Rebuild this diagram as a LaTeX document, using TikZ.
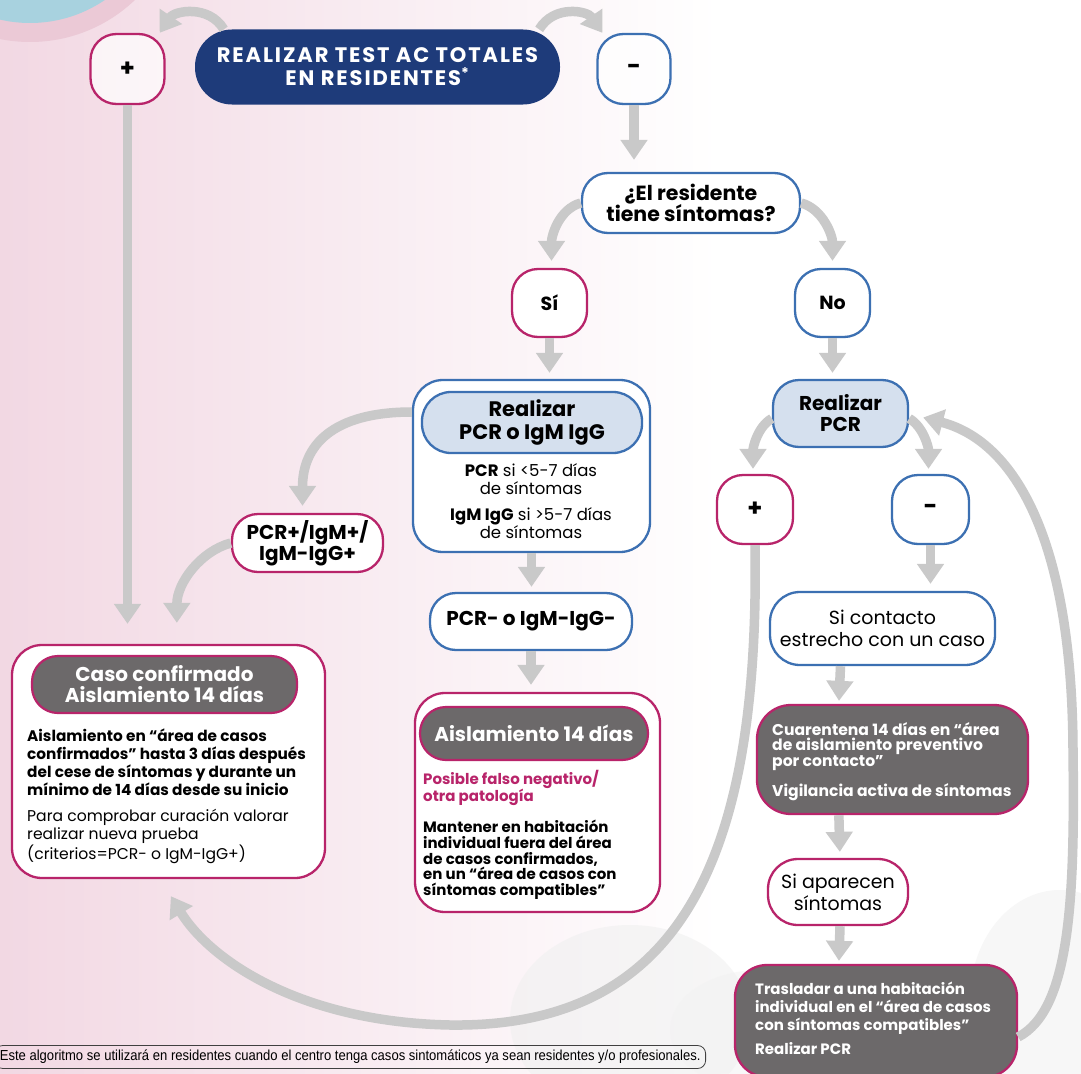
\documentclass[tikz,border=0pt]{standalone}
\usepackage{fontspec}
\setmainfont{Poppins}
\newfontfamily\condfont[FakeStretch=0.9]{Liberation Sans}
\usetikzlibrary{arrows.meta,calc}
\definecolor{navy}{HTML}{1E3B7A}
\definecolor{mag}{HTML}{B8246A}
\definecolor{bluebd}{HTML}{3C70B2}
\definecolor{arrg}{HTML}{C9C9C9}
\definecolor{dgray}{HTML}{6C696A}
\definecolor{lblue}{HTML}{D5E0EE}
\definecolor{bgpink}{HTML}{F2D8E3}
\definecolor{bluec}{HTML}{A8D2DF}
\definecolor{halo}{HTML}{EBC9D6}
\newcommand\fsz[2]{\fontsize{#1}{#2}\selectfont}
\tikzset{
  box/.style={line width=2.3pt, rounded corners=26pt, inner sep=0pt, align=center, fill=white},
  magbox/.style={box, draw=mag},
  bluebox/.style={box, draw=bluebd},
  grayhead/.style={line width=2.2pt, draw=mag, fill=dgray, text=white, rounded corners=26pt, inner sep=0pt, align=center, font=\bfseries\fsz{20}{21}},
  arr/.style={draw=arrg, line width=9.5pt, -{Triangle[width=26pt,length=20pt]}},
  btxt/.style={inner sep=0pt, anchor=north west, align=left},
}
\begin{document}
\begin{tikzpicture}[x=1pt,y=-1pt]
\useasboundingbox (0,0) rectangle (1081,1073);
\begin{scope}
\clip (0,0) rectangle (1081,1073);
\fill[white] (0,0) rectangle (1081,1073);
\shade[left color=bgpink, right color=white] (0,0) rectangle (720,1073);
\fill[halo] (30,-110) circle (152);
\fill[bluec] (30,-110) circle (133);
\fill[black!6, opacity=0.6] (630,1020) ellipse (120 and 95);
\fill[black!5, opacity=0.6] (1060,1000) ellipse (90 and 110);
\fill[black!5, opacity=0.5] (760,1030) ellipse (90 and 60);
\end{scope}

% nodes
\node[box, fill=navy, rounded corners=37pt, minimum width=365pt, minimum height=75pt,
  text=white, font=\bfseries\fsz{21}{23}\addfontfeature{LetterSpace=9}] (title) at (377.5,67) {REALIZAR TEST AC TOTALES\\EN RESIDENTES\textsuperscript{*}};
\node[magbox, fill=white, fill opacity=0.7, text opacity=1, minimum width=74pt, minimum height=70pt, font=\bfseries\fsz{24}{24}] (plusA) at (127.5,69) {+};
\node[bluebox, fill=white, fill opacity=0.7, text opacity=1, minimum width=73pt, minimum height=70pt, font=\bfseries\fsz{24}{24}] (minusA) at (634,69) {-};
\node[bluebox, minimum width=218pt, minimum height=60pt, font=\bfseries\fsz{20.5}{21}] (q) at (691,203) {¿El residente\\tiene síntomas?};
\node[magbox, minimum width=75pt, minimum height=68pt, font=\bfseries\fsz{19}{20}] (si) at (549.5,303) {Sí};
\node[bluebox, minimum width=75pt, minimum height=68pt, font=\bfseries\fsz{19}{20}] (no) at (832.5,303) {No};

% central column
\node[bluebox, rounded corners=30pt, minimum width=237pt, minimum height=172pt] (pcrA) at (531.5,466) {};
\node[box, draw=bluebd, fill=lblue, rounded corners=29pt, minimum width=220pt, minimum height=61pt, font=\bfseries\fsz{21}{23}] (pcrAh) at (532,422.5) {Realizar\\PCR o IgM IgG};
\node[inner sep=0pt, align=center, font=\fsz{16.5}{18}] (pcrAb) at (531,501) {\textbf{PCR} si <5-7 días\\de síntomas\\[8pt]\textbf{IgM IgG} si >5-7 días\\de síntomas};
\node[bluebox, minimum width=202pt, minimum height=57pt, font=\bfseries\fsz{20}{20}] (pcrneg) at (531,621.5) {PCR- o IgM-IgG-};
\node[magbox, rounded corners=30pt, minimum width=245pt, minimum height=219pt] (aisl) at (537.5,802.5) {};
\node[grayhead, minimum width=228pt, minimum height=53pt] (aislh) at (534,733.5) {Aislamiento 14 días};
\node[btxt, text=mag, font=\bfseries\fsz{15}{17}] (aislb1) at (423,770) {Posible falso negativo/\\otra patología};
\node[btxt, font=\bfseries\fsz{15}{15.75}] (aislb2) at (423,820) {Mantener en habitación\\individual fuera del área\\de casos confirmados,\\en un “área de casos con\\síntomas compatibles”};

% left column
\node[magbox, minimum width=151pt, minimum height=58pt, font=\bfseries\fsz{20}{21}] (pcrpos) at (307.5,543) {PCR+/IgM+/\\IgM-IgG+};
\node[magbox, rounded corners=30pt, minimum width=313pt, minimum height=233pt] (caso) at (168.5,761.5) {};
\node[grayhead, minimum width=265pt, minimum height=57pt] (casoh) at (164.5,684.5) {Caso confirmado\\Aislamiento 14 días};
\node[btxt, font=\bfseries\fsz{15.3}{18}] (casob1) at (27,729) {Aislamiento en “área de casos\\confirmados” hasta 3 días después\\del cese de síntomas y durante un\\mínimo de 14 días desde su inicio};
\node[btxt, font=\fsz{15.6}{18}] (casob2) at (27,809) {Para comprobar curación valorar\\realizar nueva prueba\\(criterios=PCR- o IgM-IgG+)};

% right column
\node[box, draw=bluebd, fill=lblue, minimum width=135pt, minimum height=67pt, font=\bfseries\fsz{20}{21}] (pcrB) at (840.5,413.5) {Realizar\\PCR};
\node[magbox, minimum width=76pt, minimum height=69pt, font=\bfseries\fsz{24}{24}] (plusB) at (755,509.5) {+};
\node[bluebox, minimum width=77pt, minimum height=69pt, font=\bfseries\fsz{24}{24}] (minusB) at (930.5,509.5) {-};
\node[bluebox, rounded corners=30pt, minimum width=225pt, minimum height=73pt, font=\fsz{19}{22}] (contacto) at (882.5,628.5) {Si contacto\\estrecho con un caso};
\node[box, draw=mag, fill=dgray, rounded corners=34pt, minimum width=271pt, minimum height=109pt] (cuar) at (892.5,759.5) {};
\node[btxt, text=white, font=\bfseries\fsz{15.6}{15}] (cuarb) at (772,722) {Cuarentena 14 días en “área\\de aislamiento preventivo\\por contacto”\\[12pt]Vigilancia activa de síntomas};
\node[magbox, rounded corners=30pt, minimum width=140pt, minimum height=66pt, font=\fsz{19}{22}] (apar) at (838,892) {Si aparecen\\síntomas};
\node[box, draw=mag, fill=dgray, rounded corners=32pt, minimum width=282pt, minimum height=112pt] (tras) at (876,1021) {};
\node[btxt, text=white, font=\bfseries\fsz{15}{18}] (trasb) at (755,982) {Trasladar a una habitación\\individual en el “área de casos\\con síntomas compatibles”\\[6pt]Realizar PCR};

% footnote
\node[draw=black!75, line width=0.8pt, rounded corners=8pt, anchor=east, inner xsep=5pt, minimum height=23pt,
  font=\condfont\fsz{14.5}{15}] (fn) at (706,1057) {Este algoritmo se utilizará en residentes cuando el centro tenga casos sintomáticos ya sean residentes y/o profesionales.};

% connectors
\draw[arr] ($(title.north west)+(30,1)$) .. controls +(-15,-25) and +(15,-22) .. ($(plusA.north east)+(-6,0)$);
\draw[arr] ($(title.north east)+(-22,1)$) .. controls +(15,-25) and +(-15,-22) .. ($(minusA.north west)+(6,0)$);
\draw[arr, shorten >=20pt] (plusA.south) -- (plusA.south |- caso.north);
\draw[arr, shorten >=12pt] (minusA.south) -- (minusA.south |- q.north);
\draw[arr] (q.west) .. controls +(-22,6) and +(0,-25) .. ($(si.north)+(2,-7)$);
\draw[arr] (q.east) .. controls +(22,6) and +(0,-25) .. ($(no.north)+(0,-7)$);
\draw[arr, shorten >=6pt] (si.south) -- (si.south |- pcrA.north);
\draw[arr, shorten >=6pt] (no.south) -- (no.south |- pcrB.north);
\draw[arr] ($(pcrA.west)+(0,-54)$) .. controls +(-80,0) and +(0,-60) .. ($(pcrpos.north)+(-5,-7)$);
\draw[arr] (pcrpos.west) .. controls +(-30,8) and +(0,-40) .. ($(caso.north west)+(166,-21)$);
\draw[arr, shorten >=5pt] (pcrA.south) -- (pcrA.south |- pcrneg.north);
\draw[arr, shorten >=7pt] (pcrneg.south) -- (pcrneg.south |- aisl.north);
\draw[arr] ($(pcrB.west)+(0,5)$) .. controls +(-14,8) and +(0,-22) .. ($(plusB.north)+(-2,-5)$);
\draw[arr] ($(pcrB.east)+(0,5)$) .. controls +(14,8) and +(0,-22) .. ($(minusB.north)+(-2,-5)$);
\draw[arr, shorten >=7pt] (minusB.south) -- (minusB.south |- contacto.north);
\draw[arr, shorten >=3pt] ($(contacto.south)+(-42,0)$) -- ($(cuar.north west)+(83,0)$);
\draw[arr, shorten >=6pt] ($(cuar.south west)+(83,0)$) -- ($(apar.north)+(2,0)$);
\draw[arr, shorten >=3pt] ($(apar.south)+(2,0)$) -- ($(tras.north west)+(105,0)$);
\draw[arr] (plusB.south) .. controls (760,860) and (680,1028) .. (450,1025) .. controls (300,1022) and (210,960) .. ($(caso.south west)+(160,17)$);
\draw[arr] ($(tras.east)+(0,16)$) .. controls (1070,1010) and (1075,900) .. (1073,750) .. controls (1072,530) and (1010,440) .. ($(pcrB.east)+(14,4)$);
\end{tikzpicture}
\end{document}
